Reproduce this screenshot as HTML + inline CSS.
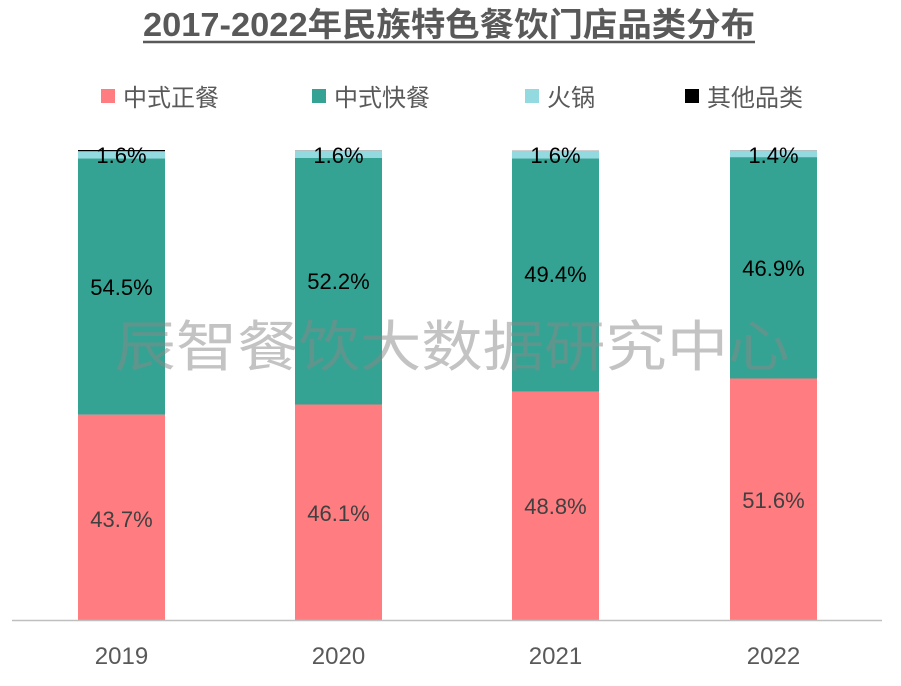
<!DOCTYPE html><html><head><meta charset="utf-8"><style>body{margin:0;background:#fff}svg{display:block}</style></head><body>
<svg width="901" height="686" xmlns="http://www.w3.org/2000/svg" font-family="Liberation Sans, Noto Sans CJK SC, sans-serif">
<text x="449" y="36" text-anchor="middle" font-size="33" font-weight="bold" fill="#595959" textLength="612" lengthAdjust="spacingAndGlyphs">2017-2022年民族特色餐饮门店品类分布</text>
<line x1="143" y1="42" x2="755" y2="42" stroke="#595959" stroke-width="2.5"/>
<g font-size="24" fill="#595959">
<rect x="101" y="89" width="14" height="14" fill="#FF7C80"/><text x="123" y="106">中式正餐</text>
<rect x="312" y="89" width="14" height="14" fill="#35A393"/><text x="334" y="106">中式快餐</text>
<rect x="525" y="89" width="14" height="14" fill="#92D9E0"/><text x="547" y="106">火锅</text>
<rect x="685" y="89" width="14" height="14" fill="#000"/><text x="707" y="106">其他品类</text>
</g>
<g>
<rect x="78" y="414.6" width="87" height="205.4" fill="#FF7C80"/><rect x="78" y="158.4" width="87" height="256.2" fill="#35A393"/><rect x="78" y="150.9" width="87" height="7.5" fill="#92D9E0"/><rect x="78" y="150" width="87" height="1.2" fill="#000"/>
<rect x="295" y="404.5" width="87" height="215.5" fill="#FF7C80"/><rect x="295" y="158" width="87" height="246.5" fill="#35A393"/><rect x="295" y="150.5" width="87" height="7.5" fill="#92D9E0"/><rect x="295" y="150" width="87" height="0.8" fill="#bbb"/>
<rect x="512" y="391.6" width="87" height="228.4" fill="#FF7C80"/><rect x="512" y="158.4" width="87" height="233.2" fill="#35A393"/><rect x="512" y="150.9" width="87" height="7.5" fill="#92D9E0"/><rect x="512" y="150.3" width="87" height="0.8" fill="#bbb"/>
<rect x="730" y="378.5" width="87" height="241.5" fill="#FF7C80"/><rect x="730" y="157.1" width="87" height="221.4" fill="#35A393"/><rect x="730" y="150.5" width="87" height="6.6" fill="#92D9E0"/><rect x="730" y="150" width="87" height="0.8" fill="#bbb"/>
</g>
<g font-size="22" text-anchor="middle" fill="#000">
<text x="121.5" y="163">1.6%</text><text x="338.5" y="163">1.6%</text><text x="555.5" y="163">1.6%</text><text x="773.5" y="163">1.4%</text>
<text x="121.5" y="295">54.5%</text><text x="338.5" y="289">52.2%</text><text x="555.5" y="282">49.4%</text><text x="773.5" y="276">46.9%</text>
</g>
<g font-size="22" text-anchor="middle" fill="#404040">
<text x="121.5" y="527">43.7%</text><text x="338.5" y="521">46.1%</text><text x="555.5" y="514">48.8%</text><text x="773.5" y="508">51.6%</text>
</g>
<text x="452" y="366" text-anchor="middle" font-size="55" fill="#888" fill-opacity="0.5" textLength="675" lengthAdjust="spacingAndGlyphs">辰智餐饮大数据研究中心</text>
<line x1="12" y1="620.5" x2="882" y2="620.5" stroke="#BFBFBF" stroke-width="1.5"/>
<g font-size="24" text-anchor="middle" fill="#595959">
<text x="121.5" y="664">2019</text><text x="338.5" y="664">2020</text><text x="555.5" y="664">2021</text><text x="773.5" y="664">2022</text>
</g>
</svg></body></html>
